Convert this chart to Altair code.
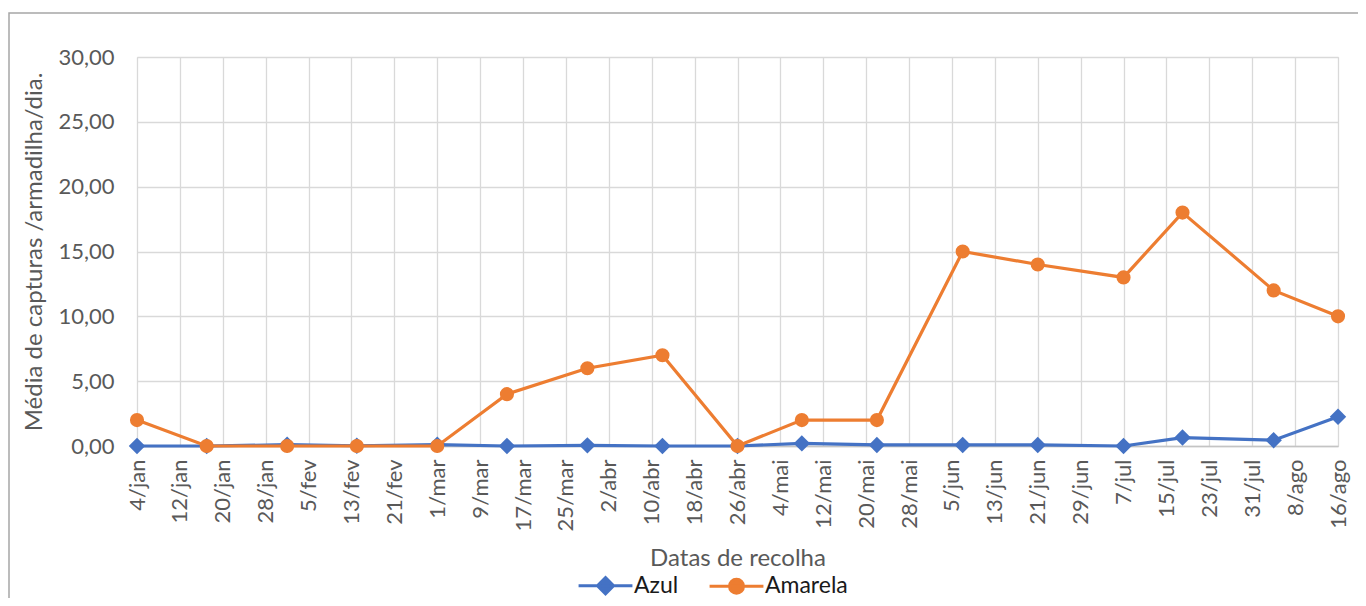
import altair as alt
import pandas as pd

# ---- data ----
datas = ["2021-01-04", "2021-01-17", "2021-02-01", "2021-02-14", "2021-03-01",
         "2021-03-14", "2021-03-29", "2021-04-12", "2021-04-26", "2021-05-08",
         "2021-05-22", "2021-06-07", "2021-06-21", "2021-07-07", "2021-07-18",
         "2021-08-04", "2021-08-16"]
azul = [0.0, 0.0, 0.1, 0.02, 0.1, 0.0, 0.05, 0.0, 0.0, 0.2, 0.08, 0.08, 0.08,
        0.0, 0.65, 0.45, 2.25]
amarela = [2.0, 0.0, 0.0, 0.0, 0.0, 4.0, 6.0, 7.0, 0.0, 2.0, 2.0, 15.0, 14.0,
           13.0, 18.0, 12.0, 10.0]
series = ["Azul", "Amarela"]
cores = ["#4472C4", "#ED7D31"]
meses = ["jan", "fev", "mar", "abr", "mai", "jun", "jul", "ago", "set", "out", "nov", "dez"]
# tick dates on the x axis (month, day), every 8 days
ticks_md = [(1, 4), (1, 12), (1, 20), (1, 28), (2, 5), (2, 13), (2, 21), (3, 1),
            (3, 9), (3, 17), (3, 25), (4, 2), (4, 10), (4, 18), (4, 26), (5, 4),
            (5, 12), (5, 20), (5, 28), (6, 5), (6, 13), (6, 21), (6, 29), (7, 7),
            (7, 15), (7, 23), (7, 31), (8, 8), (8, 16)]
y_ticks = [0, 5, 10, 15, 20, 25, 30]

df = pd.DataFrame({
    "data": datas * 2,
    "valor": azul + amarela,
    "serie": ["Azul"] * len(datas) + ["Amarela"] * len(datas),
})
df_az = df[df.serie == "Azul"]
df_am = df[df.serie == "Amarela"]

FONT = "Lato"
GREY = "#595959"
W, H = 1201, 389

tick_vals = [alt.DateTime(year=2021, month=m, date=d, utc=True) for m, d in ticks_md]
xscale = alt.Scale(type="utc", domain=[tick_vals[0], tick_vals[-1]], nice=False)
yscale = alt.Scale(domain=[0, 30], nice=False)

xenc = alt.X("data:T", scale=xscale, axis=alt.Axis(
    values=tick_vals,
    labelExpr="utcdate(datum.value) + '/' + " + str(meses) + "[utcmonth(datum.value)]",
    labelAngle=-90, labelPadding=13, labelFontSize=22, labelColor=GREY,
    labelFont=FONT, ticks=False, domainColor="#c4c4c4", domainWidth=1.3,
    gridColor="#d9d9d9", gridWidth=1.3, labelOverlap=False, labelBound=False,
    title="Datas de recolha", titleFont=FONT, titleFontSize=24, titleColor=GREY,
    titleFontWeight="normal", titlePadding=16,
))
yenc = alt.Y("valor:Q", scale=yscale, axis=alt.Axis(
    values=y_ticks,
    labelExpr="replace(format(datum.value, '.2f'), '.', ',')",
    labelPadding=23, labelFontSize=22, labelColor=GREY, labelFont=FONT,
    ticks=False, domain=False, gridColor="#d9d9d9", gridWidth=1.3,
    title="Média de capturas /armadilha/dia.", titleFont=FONT, titleFontSize=24,
    titleColor=GREY, titleFontWeight="normal", titlePadding=11,
))

frame = alt.Chart(pd.DataFrame({"k": [0]})).mark_rect(
    fill=None, stroke="#a6a6a6", strokeWidth=1.5
).encode(x=alt.value(-128), x2=alt.value(1240), y=alt.value(-44), y2=alt.value(570))

line_az = alt.Chart(df_az).mark_line(strokeWidth=3.2, color=cores[0]).encode(x=xenc, y=yenc)
pts_az = alt.Chart(df_az).mark_point(shape="diamond", filled=True, size=270, opacity=1,
                                     color=cores[0]).encode(x=xenc, y=yenc)
line_am = alt.Chart(df_am).mark_line(strokeWidth=3.2, color=cores[1]).encode(x=xenc, y=yenc)
pts_am = alt.Chart(df_am).mark_point(shape="circle", filled=True, size=200, opacity=1,
                                     color=cores[1]).encode(x=xenc, y=yenc)

# legend-only layer (invisible marks) producing the library legend
leg_shapes = ["M-1,0H1M0,-0.3L0.3,0L0,0.3L-0.3,0Z",
              "M-1,0H1M0.26,0A0.26,0.26 0 1,1 -0.26,0A0.26,0.26 0 1,1 0.26,0Z"]
leg_scale_c = alt.Scale(domain=series, range=cores)
legend = alt.Legend(orient="none", legendX=440, legendY=500, direction="horizontal",
                    title=None, labelFont=FONT, labelFontSize=23, labelColor="#1a1a1a",
                    symbolSize=2900, symbolStrokeWidth=3, symbolOpacity=1,
                    labelOffset=0, columnPadding=24, labelLimit=300)
leg = alt.Chart(df).mark_point(opacity=0, filled=True).encode(
    x=xenc, y=yenc,
    fill=alt.Fill("serie:N", scale=leg_scale_c, legend=legend, sort=series),
    stroke=alt.Stroke("serie:N", scale=leg_scale_c, legend=legend, sort=series),
    shape=alt.Shape("serie:N", scale=alt.Scale(domain=series, range=leg_shapes),
                    legend=legend, sort=series),
)

chart = alt.layer(frame, leg, line_az, pts_az, line_am, pts_am).properties(
    width=W, height=H,
    autosize=alt.AutoSizeParams(type="none"),
    padding={"left": 129, "top": 49, "right": 20, "bottom": 152},
).configure_view(stroke=None).configure(background="white")

chart.save("out.html", embed_options={"renderer": "svg", "actions": False})
